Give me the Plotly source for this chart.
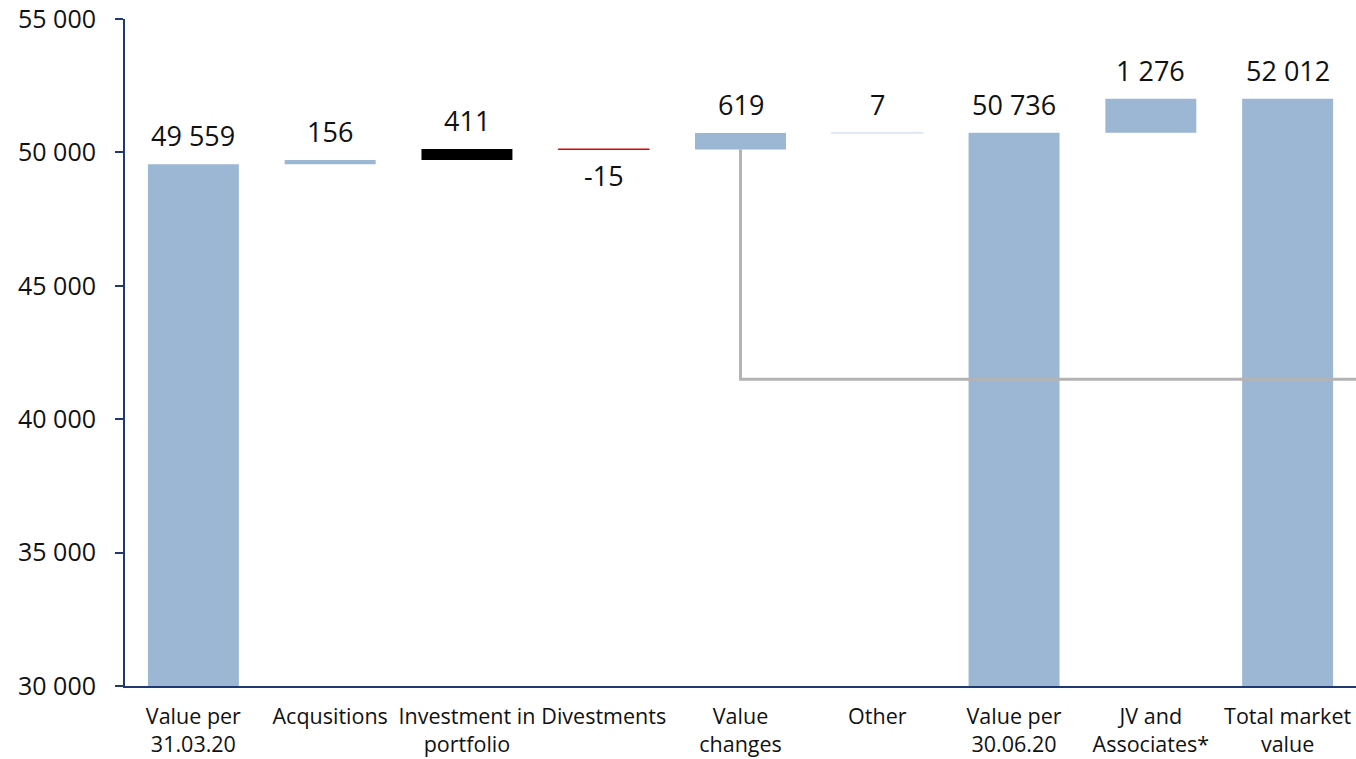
import plotly.graph_objects as go

categories = ["Value per<br>31.03.20", "Acqusitions", "Investment in<br>portfolio", "Divestments",
              "Value<br>changes", "Other", "Value per<br>30.06.20", "JV and<br>Associates*",
              "Total market<br>value"]
values = [49559, 156, 411, -15, 619, 7, 50736, 1276, 52012]
kinds = ["total", "relative", "relative", "relative", "relative", "relative", "total", "relative", "total"]
bar_colors = ["#9BB7D3", "#9BB7D3", "#000000", "#E00000", "#9BB7D3", "#DCE6F1", "#9BB7D3", "#9BB7D3", "#9BB7D3"]
line_widths = [0, 0, 0, 1, 0, 1.5, 0, 0, 0]
y_ticks = [30000, 35000, 40000, 45000, 50000, 55000]
connector_level = 41500

bases, heights = [], []
running = 0
for v, k in zip(values, kinds):
    if k == "total":
        bases.append(0)
        heights.append(v)
        running = v
    else:
        bases.append(running)
        heights.append(v)
        running += v

fig = go.Figure()
fig.add_trace(go.Bar(
    x=categories, y=heights, base=bases,
    marker=dict(color=bar_colors, line=dict(color=bar_colors, width=line_widths)),
    hoverinfo="skip", showlegend=False,
))

def fmt(v):
    return f"{v:,}".replace(",", " ")

label_font = dict(family="Open Sans", size=27, color="#111111")
for c, b, h in zip(categories, bases, heights):
    end = b + h
    if h >= 0:
        fig.add_annotation(x=c, y=end, text=fmt(h), showarrow=False, yanchor="bottom", yshift=8,
                           font=label_font)
    else:
        fig.add_annotation(x=c, y=end, text=fmt(h), showarrow=False, yanchor="top", yshift=-6,
                           font=label_font)

# grey connector line from the "Value changes" bar
vc_idx = 4
fig.add_shape(type="line", xref="x", yref="y", x0=vc_idx, x1=vc_idx,
              y0=bases[vc_idx], y1=connector_level, line=dict(color="#B3B3B3", width=3), layer="above")
fig.add_shape(type="line", xref="x", yref="y", x0=vc_idx - 0.01, x1=len(categories) - 0.5,
              y0=connector_level, y1=connector_level, line=dict(color="#B3B3B3", width=3), layer="above")

axis_col = "#1F3A73"
fig.update_layout(
    width=1356, height=759,
    margin=dict(l=125, r=0, t=19, b=73),
    paper_bgcolor="white", plot_bgcolor="white",
    bargap=0.335,
    separators=", ",
    font=dict(family="Open Sans", color="#111111"),
    xaxis=dict(showline=True, linecolor=axis_col, linewidth=2, ticks="", showgrid=False,
               ticklabelstandoff=10,
               tickfont=dict(size=21.5, family="Open Sans", color="#111111"),
               range=[-0.5, len(categories) - 0.5]),
    yaxis=dict(range=[30000, 55000], tickvals=y_ticks, tickformat=",d",
               showline=True, linecolor=axis_col, linewidth=2, ticks="outside",
               tickcolor=axis_col, ticklen=8, tickwidth=2, showgrid=False, zeroline=False,
               ticklabelstandoff=14,
               tickfont=dict(size=25, family="Open Sans", color="#111111")),
)

fig.write_html("out.html")
